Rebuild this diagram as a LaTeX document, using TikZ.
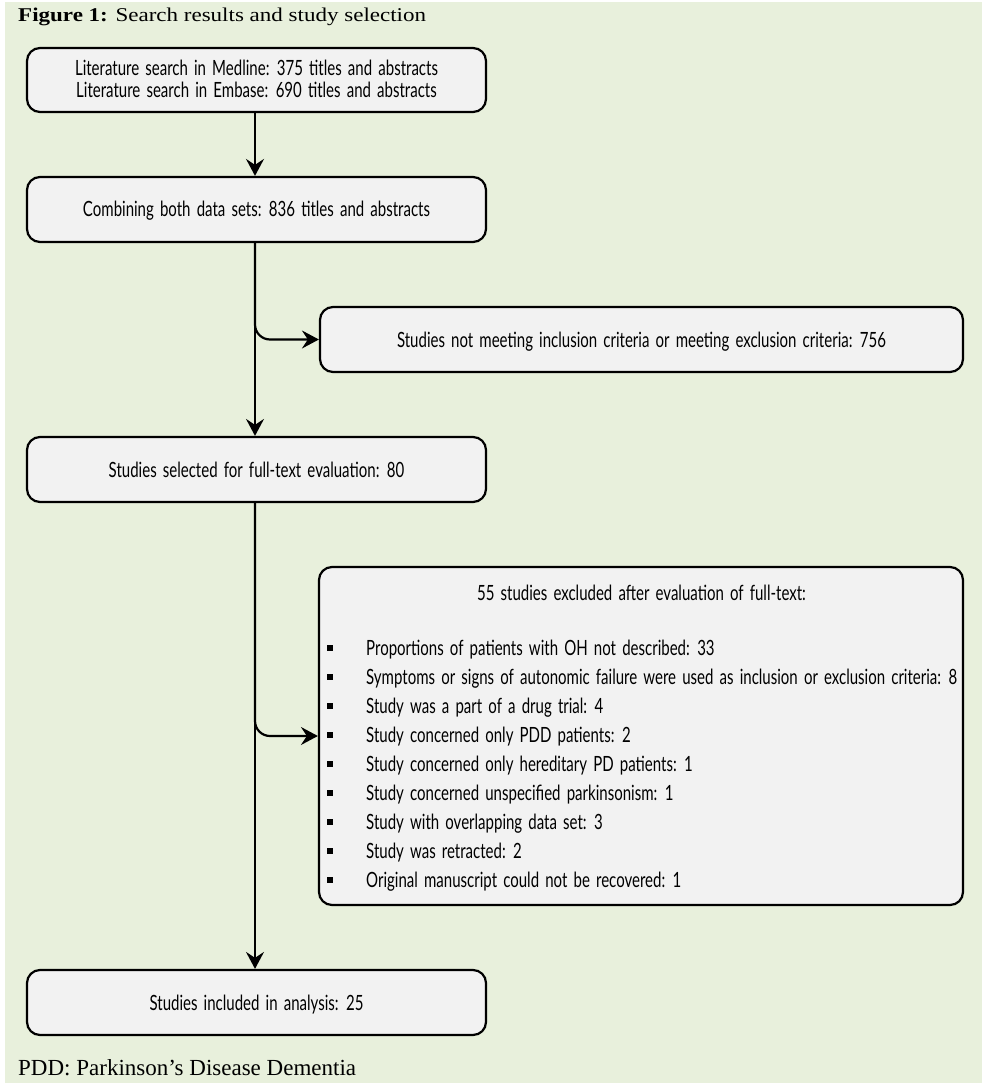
\documentclass[tikz,border=0pt]{standalone}
\usepackage{fontspec}
\setmainfont{Liberation Serif}
\newfontfamily\boxfont[FakeStretch=0.715,WordSpace=1.6]{Lato}
\newfontfamily\capfont[FakeStretch=1.18]{Liberation Serif}
\usetikzlibrary{arrows.meta}
\definecolor{pagegreen}{HTML}{E8F0DC}
\definecolor{boxgray}{HTML}{F2F2F2}

\begin{document}
\begin{tikzpicture}[x=1pt,y=-1pt,
  box/.style={draw=black, line width=2.2pt, fill=boxgray, rounded corners=13pt,
    inner sep=0pt, text height=15pt, text depth=0pt,
    font=\boxfont\fontsize{21}{22}\selectfont},
  txt/.style={inner sep=0pt, text height=15pt, text depth=0pt,
    font=\boxfont\fontsize{21}{22}\selectfont},
  conn/.style={line width=2.2pt, -{Stealth[length=17pt,width=18pt,inset=6pt]}},
  sq/.style={fill=black, minimum size=6pt, inner sep=0pt},
  serif/.style={inner sep=0pt, anchor=base west}
]
\useasboundingbox (0,0) rectangle (982,1083);
\fill[pagegreen] (5,2) rectangle (982,1083);

% caption and footnote
\node[serif, font=\capfont\fontsize{19.5}{20}\selectfont] (title) at (18,21.7)
  {\textbf{Figure 1:} Search results and study selection};
\node[serif, font=\fontsize{23}{24}\selectfont] (note) at (18,1075)
  {PDD: Parkinson’s Disease Dementia};

% main column
\node[box, minimum width=459pt, minimum height=64pt] (b1) at (256.5,80) {};
\node[txt] (b1a) at (256.5,68) {Literature search in Medline: 375 titles and abstracts};
\node[txt] (b1b) at (256.5,90) {Literature search in Embase: 690 titles and abstracts};
\node[box, minimum width=459pt, minimum height=65pt] (b2) at (256.5,209.5)
  {Combining both data sets: 836 titles and abstracts};
\node[box, minimum width=459pt, minimum height=65pt] (b3) at (256.5,469.5)
  {Studies selected for full-text evaluation: 80};
\node[box, minimum width=459pt, minimum height=65pt] (b4) at (256.5,1002.5)
  {Studies included in analysis: 25};

% exclusion boxes
\node[box, minimum width=643pt, minimum height=65pt] (ex1) at (641.5,339.5)
  {Studies not meeting inclusion criteria or meeting exclusion criteria: 756};
\node[box, minimum width=644pt, minimum height=338pt] (ex2) at (641,736) {};
\node[txt] (ex2h) at (641.5,593) {55 studies excluded after evaluation of full-text:};
\foreach \t [count=\i] in {
  Proportions of patients with OH not described: 33,
  Symptoms or signs of autonomic failure were used as inclusion or exclusion criteria: 8,
  Study was a part of a drug trial: 4,
  Study concerned only PDD patients: 2,
  Study concerned only hereditary PD patients: 1,
  Study concerned unspecified parkinsonism: 1,
  Study with overlapping data set: 3,
  Study was retracted: 2,
  Original manuscript could not be recovered: 1}{
  \node[sq] (sq\i) at (330,{648+29*(\i-1)}) {};
  \node[txt, anchor=west] (it\i) at (366,{648+29*(\i-1)}) {\t};
}

% connectors
\coordinate (spine) at (255,0);
\draw[conn] (b1.south -| spine) -- (b2.north -| spine);
\draw[conn] (b2.south -| spine) -- (b3.north -| spine);
\draw[conn, rounded corners=15pt] (b2.south -| spine) |- (ex1.west);
\draw[conn] (b3.south -| spine) -- (b4.north -| spine);
\draw[conn, rounded corners=15pt] (b3.south -| spine) |- (ex2.west);
\end{tikzpicture}
\end{document}
